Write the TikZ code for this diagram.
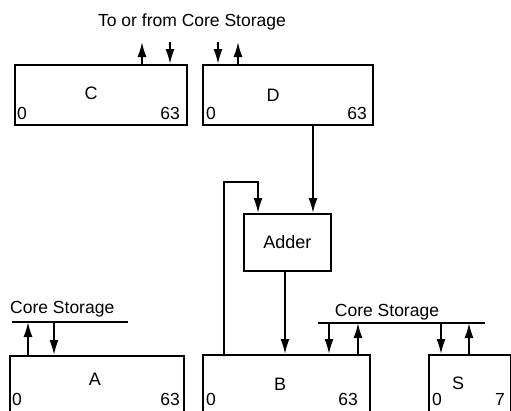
\documentclass[tikz,border=0pt]{standalone}
\usepackage{fontspec}
\setmainfont{Liberation Sans}
\usetikzlibrary{arrows.meta,calc}
\begin{document}
\begin{tikzpicture}[x=1pt,y=-1pt,
  reg/.style={draw,line width=1.8pt,anchor=north west,inner sep=0pt},
  lbl/.style={font=\fontsize{18}{20}\selectfont,inner sep=0pt},
  num/.style={font=\fontsize{17.5}{19}\selectfont,inner sep=0pt},
  ttl/.style={font=\fontsize{17.5}{20}\selectfont,inner sep=0pt},
  arr/.style={line width=1.7pt,-{Latex[length=15pt,width=9pt]}},
  ln/.style={line width=1.7pt}]
\useasboundingbox (0,0) rectangle (511,410);
\clip (0,0) rectangle (511,410);
\fill[white] (0,0) rectangle (511,410);
% registers
\node[reg,minimum width=172pt,minimum height=60pt] (C) at (14,64) {};
\node[reg,minimum width=170pt,minimum height=60pt] (D) at (202,64) {};
\node[reg,minimum width=87pt,minimum height=57pt] (Adder) at (243,213) {};
\node[reg,minimum width=174pt,minimum height=70pt] (A) at (9,355) {};
\node[reg,minimum width=167pt,minimum height=70pt] (B) at (202,354) {};
\node[reg,minimum width=82pt,minimum height=70pt] (S) at (428,354) {};
% labels
\node[lbl] (Cl) at (91,93) {C};
\node[lbl] (Dl) at (273,95) {D};
\node[lbl] (Adl) at (Adder.center) {Adder};
\node[lbl] (Al) at (95,379) {A};
\node[lbl] (Bl) at (280,384) {B};
\node[lbl] (Sl) at (458,383) {S};
\node[num,anchor=west] (C0) at (17,113) {0};
\node[num,anchor=east] (C63) at (180,113) {63};
\node[num,anchor=west] (D0) at (206,113) {0};
\node[num,anchor=east] (D63) at (367,113) {63};
\node[num,anchor=west] (A0) at (12,399) {0};
\node[num,anchor=east] (A63) at (180,399) {63};
\node[num,anchor=west] (B0) at (206,399) {0};
\node[num,anchor=east] (B63) at (358,399) {63};
\node[num,anchor=west] (S0) at (432,399) {0};
\node[num,anchor=east] (S7) at (505,399) {7};
% top text and arrows
\node[ttl] (top) at (192,22) {To or from Core Storage};
\coordinate (cu) at (142,42);
\coordinate (cd) at (170,42);
\coordinate (du) at (238,42);
\coordinate (dd) at (218,42);
\draw[arr] (C.north -| cu) -- (cu);
\draw[arr] (cd) -- (C.north -| cd);
\draw[arr] (dd) -- (D.north -| dd);
\draw[arr] (D.north -| du) -- (du);
% adder connections
\draw[arr] (D.south -| 313,0) -- (Adder.north -| 313,0);
\draw[arr] (Adder.south -| 285,0) -- (B.north -| 285,0);
\coordinate (fb) at (224,182);
\draw[arr] (B.north -| fb) |- ($(fb)+(34,0)$) -- ($(Adder.north west)+(15,0)$);
% core storage left
\node[ttl,anchor=west] (csA) at (10,309) {Core Storage};
\coordinate (la1) at (12,322);
\coordinate (la2) at (128,322);
\draw[ln] (la1) -- (la2);
\draw[arr] (A.north -| 28,0) -- (la1 -| 28,0);
\draw[arr] (la1 -| 54,0) -- (A.north -| 54,0);
% core storage right
\node[ttl] (csB) at (387,312) {Core Storage};
\coordinate (lb1) at (318,323);
\coordinate (lb2) at (485,323);
\draw[ln] (lb1) -- (lb2);
\draw[arr] (lb1 -| 329,0) -- (B.north -| 329,0);
\draw[arr] (B.north -| 358,0) -- (lb1 -| 358,0);
\draw[arr] (lb1 -| 441,0) -- (S.north -| 441,0);
\draw[arr] (S.north -| 469,0) -- (lb1 -| 469,0);
\end{tikzpicture}
\end{document}
